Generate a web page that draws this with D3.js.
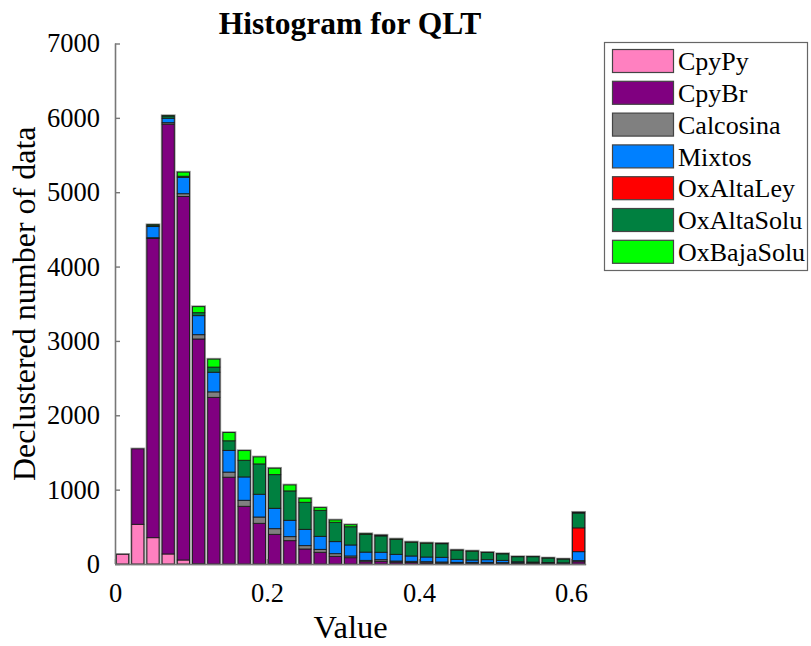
<!DOCTYPE html>
<html>
<head>
<meta charset="utf-8">
<script src="https://cdn.jsdelivr.net/npm/d3@7"></script>
<style>
  html, body { margin: 0; padding: 0; background: #fff; }
  text { font-family: "Liberation Serif", "Times New Roman", serif; fill: #000; }
</style>
</head>
<body>
<svg id="chart" width="811" height="646"></svg>
<script>
// ---- data ----
const binCenters = [0.01,0.03,0.05,0.07,0.09,0.11,0.13,0.15,0.17,0.19,0.21,0.23,0.25,0.27,0.29,0.31,0.33,0.35,0.37,0.39,0.41,0.43,0.45,0.47,0.49,0.51,0.53,0.55,0.57,0.59,0.61];
const seriesNames = ["CpyPy","CpyBr","Calcosina","Mixtos","OxAltaLey","OxAltaSolu","OxBajaSolu"];
const seriesColors = ["#ff80c0","#800080","#808080","#0080ff","#ff0000","#008040","#00ff00"];
const CpyPy      = [130,534,354,135,54,3,0,0,0,0,0,0,0,0,0,0,0,0,0,0,0,0,0,0,0,0,0,0,0,0,0];
const CpyBr      = [0,1014,4024,5780,4889,3023,2241,1167,776,547,399,314,202,157,103,85,31,36,25,20,15,12,10,10,10,8,8,7,6,5,30];
const Calcosina  = [0,0,10,20,37,58,74,69,81,85,76,54,45,40,36,23,18,22,15,16,16,15,12,12,12,10,8,7,6,5,15];
const Mixtos     = [0,0,150,60,220,256,264,292,314,306,274,220,219,175,162,148,111,100,90,72,63,63,41,32,36,31,14,12,8,6,121];
const OxAltaLey  = [0,0,0,0,0,0,0,0,0,0,0,0,0,0,0,0,0,0,0,0,0,0,0,0,0,0,0,0,0,0,320];
const OxAltaSolu = [0,0,20,30,15,40,69,129,224,408,453,395,364,350,260,245,238,220,200,183,184,183,122,118,96,88,68,72,60,50,200];
const OxBajaSolu = [0,0,5,5,55,81,107,111,130,94,86,80,54,36,31,27,10,10,7,5,5,5,3,3,3,2,1,1,1,1,10];
const xTicks = [0, 0.2, 0.4, 0.6];
const yTicks = [0,1000,2000,3000,4000,5000,6000,7000];
const binWidth = 0.02;

const seriesValues = [CpyPy, CpyBr, Calcosina, Mixtos, OxAltaLey, OxAltaSolu, OxBajaSolu];
const rows = binCenters.map((c, i) => {
  const r = { center: c };
  seriesNames.forEach((n, k) => r[n] = seriesValues[k][i]);
  return r;
});

// ---- layout ----
const svg = d3.select("#chart");
const pL = 115, pR = 586.2, pT = 43.5, pB = 564;
const x = d3.scaleLinear().domain([0, 0.62]).range([pL, pR]);
const y = d3.scaleLinear().domain([0, 7000]).range([pB, pT]);
const color = d3.scaleOrdinal().domain(seriesNames).range(seriesColors);

const stack = d3.stack().keys(seriesNames)(rows);
const barW = x(binWidth * 0.8) - x(0);

// halo behind each bar
svg.append("g").selectAll("rect").data(rows).join("rect")
  .attr("x", d => x(d.center) - barW / 2)
  .attr("width", barW)
  .attr("y", d => y(d3.sum(seriesNames, n => d[n])))
  .attr("height", d => y(0) - y(d3.sum(seriesNames, n => d[n])))
  .attr("fill", "none")
  .attr("stroke", "#9a9a9a")
  .attr("stroke-width", 2.6);

svg.append("g").selectAll("g").data(stack).join("g")
  .attr("fill", d => color(d.key))
  .selectAll("rect").data(d => d.filter(s => s[1] - s[0] > 0)).join("rect")
  .attr("x", d => x(d.data.center) - barW / 2)
  .attr("width", barW)
  .attr("y", d => y(d[1]))
  .attr("height", d => y(d[0]) - y(d[1]))
  .attr("stroke", "#1a1a1a")
  .attr("stroke-width", 0.9);

// axes
const axisColor = "#777";
const yAxis = svg.append("g").attr("transform", `translate(${pL},0)`)
  .call(d3.axisLeft(y).tickValues(yTicks).tickSize(-5).tickPadding(15).tickFormat(d3.format("d")));
const xAxis = svg.append("g").attr("transform", `translate(0,${pB})`)
  .call(d3.axisBottom(x).tickValues(xTicks).tickSize(-5).tickPadding(19).tickFormat(d => d === 0 ? "0" : d3.format(".1f")(d)));
xAxis.select(".domain").attr("d", `M${pL},0.5H${pR}`);
yAxis.select(".domain").attr("d", `M0.5,${pB}V${pT}`);
[xAxis, yAxis].forEach(a => {
  a.select(".domain").attr("stroke", axisColor).attr("stroke-width", 1.6);
  a.selectAll(".tick line").attr("stroke", axisColor).attr("stroke-width", 1.4);
  a.selectAll(".tick text").attr("font-size", 26.5).attr("font-family", "Liberation Serif").attr("fill", "#000");
});

// title and labels
svg.append("text").attr("x", (pL + pR) / 2 - 0.5).attr("y", 34)
  .attr("text-anchor", "middle").attr("font-size", 31.5).attr("font-weight", "bold")
  .text("Histogram for QLT");
svg.append("text").attr("x", (pL + pR) / 2).attr("y", 638)
  .attr("text-anchor", "middle").attr("font-size", 32.5).text("Value");
svg.append("text").attr("transform", `translate(35,${(pT + pB) / 2}) rotate(-90)`)
  .attr("text-anchor", "middle").attr("font-size", 32).text("Declustered number of data");

// legend
const lg = svg.append("g");
lg.append("rect").attr("x", 604.5).attr("y", 42.5).attr("width", 203).attr("height", 228)
  .attr("fill", "#fff").attr("stroke", "#666").attr("stroke-width", 1.2);
const items = lg.selectAll("g.item").data(seriesNames).join("g")
  .attr("class", "item")
  .attr("transform", (d, i) => `translate(0,${61 + i * 31.8})`);
items.append("rect").attr("x", 612.5).attr("y", -11.5).attr("width", 61).attr("height", 23)
  .attr("fill", d => color(d)).attr("stroke", "#444").attr("stroke-width", 1.2);
items.append("text").attr("x", 678).attr("y", 0).attr("dy", "0.35em")
  .attr("font-size", 26).text(d => d);
</script>
</body>
</html>
